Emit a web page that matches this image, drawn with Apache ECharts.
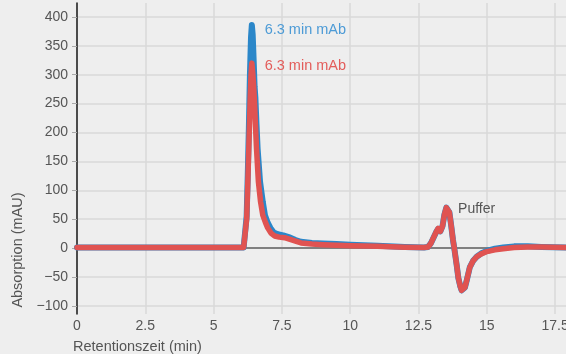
<!DOCTYPE html>
<html><head><meta charset="utf-8">
<script src="https://cdn.jsdelivr.net/npm/echarts@6/dist/echarts.min.js"></script>
<style>html,body{margin:0;padding:0;background:#eeeeee}#c{width:566px;height:354px}</style>
</head><body><div id="c"></div><script>
const xTicks = [0, 2.5, 5, 7.5, 10, 12.5, 15, 17.5];
const yTicks = [-100, -50, 0, 50, 100, 150, 200, 250, 300, 350, 400];

const timeBlue = [0, 2, 4, 6, 6.1, 6.17, 6.21, 6.25, 6.29, 6.33, 6.37, 6.4, 6.43, 6.47, 6.5, 6.53, 6.57, 6.61, 6.7, 6.8, 6.88, 6.98, 7.08, 7.2, 7.35, 7.55, 7.75, 8.0, 8.2, 8.6, 9.0, 9.5, 10, 10.5, 11, 12, 12.7,
  12.85, 12.95, 13.05, 13.15, 13.22, 13.3, 13.38, 13.45, 13.52, 13.57, 13.63, 13.7, 13.76, 13.81, 13.9, 13.96, 14.03, 14.08, 14.12, 14.2, 14.27, 14.38, 14.5, 14.63, 14.8, 15.0, 15.3, 15.6, 16, 16.5, 17, 17.9];
const absBlue = [1, 1, 1, 1, 1, 3, 55, 125, 205, 300, 365, 386, 370, 320, 280, 260, 215, 173, 115, 80, 57, 44, 35, 27, 24, 22, 19, 14, 11, 9, 8, 7, 6, 5, 4, 2, 1,
  2, 8, 18, 28, 33, 29, 38, 58, 70, 72, 62, 38, 15, 0, -30, -52, -66, -73, -75, -68, -55, -33, -22, -15, -9, -5, -1, 1, 3, 3, 2, 1];

const timeRed = [0, 2, 4, 6, 6.1, 6.17, 6.21, 6.25, 6.29, 6.34, 6.37, 6.4, 6.43, 6.46, 6.49, 6.53, 6.57, 6.64, 6.72, 6.8, 6.9, 6.98, 7.1, 7.23, 7.4, 7.6, 7.8, 8.0, 8.2, 8.6, 9.0, 9.5, 10, 11, 12, 12.7,
  12.85, 12.95, 13.05, 13.15, 13.22, 13.3, 13.38, 13.45, 13.52, 13.57, 13.63, 13.7, 13.76, 13.81, 13.9, 13.96, 14.03, 14.08, 14.12, 14.2, 14.27, 14.38, 14.5, 14.63, 14.8, 15.0, 15.3, 15.6, 16, 16.5, 17, 17.9];
const absRed = [1, 1, 1, 1, 1, 3, 50, 110, 175, 260, 300, 320, 305, 285, 260, 215, 173, 115, 80, 57, 44, 35, 26, 21, 19, 18, 15, 12, 9, 7, 6, 5, 4, 3, 1.5, 1,
  2, 8, 18, 28, 34, 29, 38, 58, 70, 72, 62, 38, 15, 0, -30, -52, -66, -73, -75, -68, -55, -33, -22, -15, -10, -6, -3, -1, 1, 2, 2, 1];

const seriesNames = ['6.3 min mAb', '6.3 min mAb'];
const puffer = 'Puffer';

const FONT = '"Liberation Sans", Arial, sans-serif';
const zip = (a, b) => a.map((t, i) => [t, b[i]]);

const chart = echarts.init(document.getElementById('c'), null, {renderer: 'canvas'});
chart.setOption({
  backgroundColor: '#eeeeee',
  animation: false,
  grid: {left: 77, right: 0, top: 3, bottom: 40, containLabel: false, outerBoundsMode: 'none'},
  xAxis: {
    type: 'value', min: 0, max: 17.9,
    axisLine: {show: false},
    axisTick: {show: false, customValues: xTicks},
    axisLabel: {customValues: xTicks, color: '#555', fontFamily: FONT, fontSize: 14, margin: 5,
      formatter: v => String(v)},
    splitLine: {show: true, lineStyle: {color: '#d8d8d8', width: 1.5}}
  },
  yAxis: {
    type: 'value', min: -114, max: 424,
    axisLine: {show: true, lineStyle: {color: '#1a1a1a', width: 1.5}},
    axisTick: {show: true, length: 5, customValues: yTicks, lineStyle: {color: '#aaaaaa'}},
    axisLabel: {customValues: yTicks, color: '#555', fontFamily: FONT, fontSize: 14, margin: 9,
      formatter: v => (v < 0 ? '\u2212' + Math.abs(v) : String(v))},
    splitLine: {show: true, lineStyle: {color: '#d8d8d8', width: 1.5}}
  },
  series: [
    {type: 'line', name: seriesNames[0], data: zip(timeBlue, absBlue), showSymbol: false, z: 2,
      lineStyle: {color: '#2b87c9', width: 6, join: 'round', cap: 'round'}, itemStyle: {color: '#2b87c9'},
      markLine: {silent: true, symbol: 'none', label: {show: false}, z: 1,
        lineStyle: {color: '#808080', width: 2, type: 'solid'}, data: [{yAxis: 0}]}},
    {type: 'line', name: seriesNames[1], data: zip(timeRed, absRed), showSymbol: false, z: 3,
      lineStyle: {color: '#e05351', width: 5.5, join: 'round', cap: 'round'}, itemStyle: {color: '#e05351'}}
  ]
});

const p1 = chart.convertToPixel({gridIndex: 0}, [6.87, 376]);
const p2 = chart.convertToPixel({gridIndex: 0}, [6.87, 315]);
const p3 = chart.convertToPixel({gridIndex: 0}, [13.95, 66]);
chart.setOption({
  graphic: [
    {type: 'text', left: p1[0], top: p1[1] - 8, style: {text: seriesNames[0], fill: '#4d9bd6', font: '14.5px ' + FONT}},
    {type: 'text', left: p2[0], top: p2[1] - 8, style: {text: seriesNames[1], fill: '#e35d5b', font: '14.5px ' + FONT}},
    {type: 'text', left: p3[0], top: p3[1] - 8, style: {text: puffer, fill: '#555', font: '14px ' + FONT}},
    {type: 'text', left: 73, top: 339, style: {text: 'Retentionszeit (min)', fill: '#555', font: '14.5px ' + FONT}},
    {type: 'text', x: 10, y: 250, rotation: Math.PI / 2, style: {text: 'Absorption (mAU)', fill: '#555', font: '14.5px ' + FONT, align: 'center', verticalAlign: 'top'}}
  ]
});
</script></body></html>
